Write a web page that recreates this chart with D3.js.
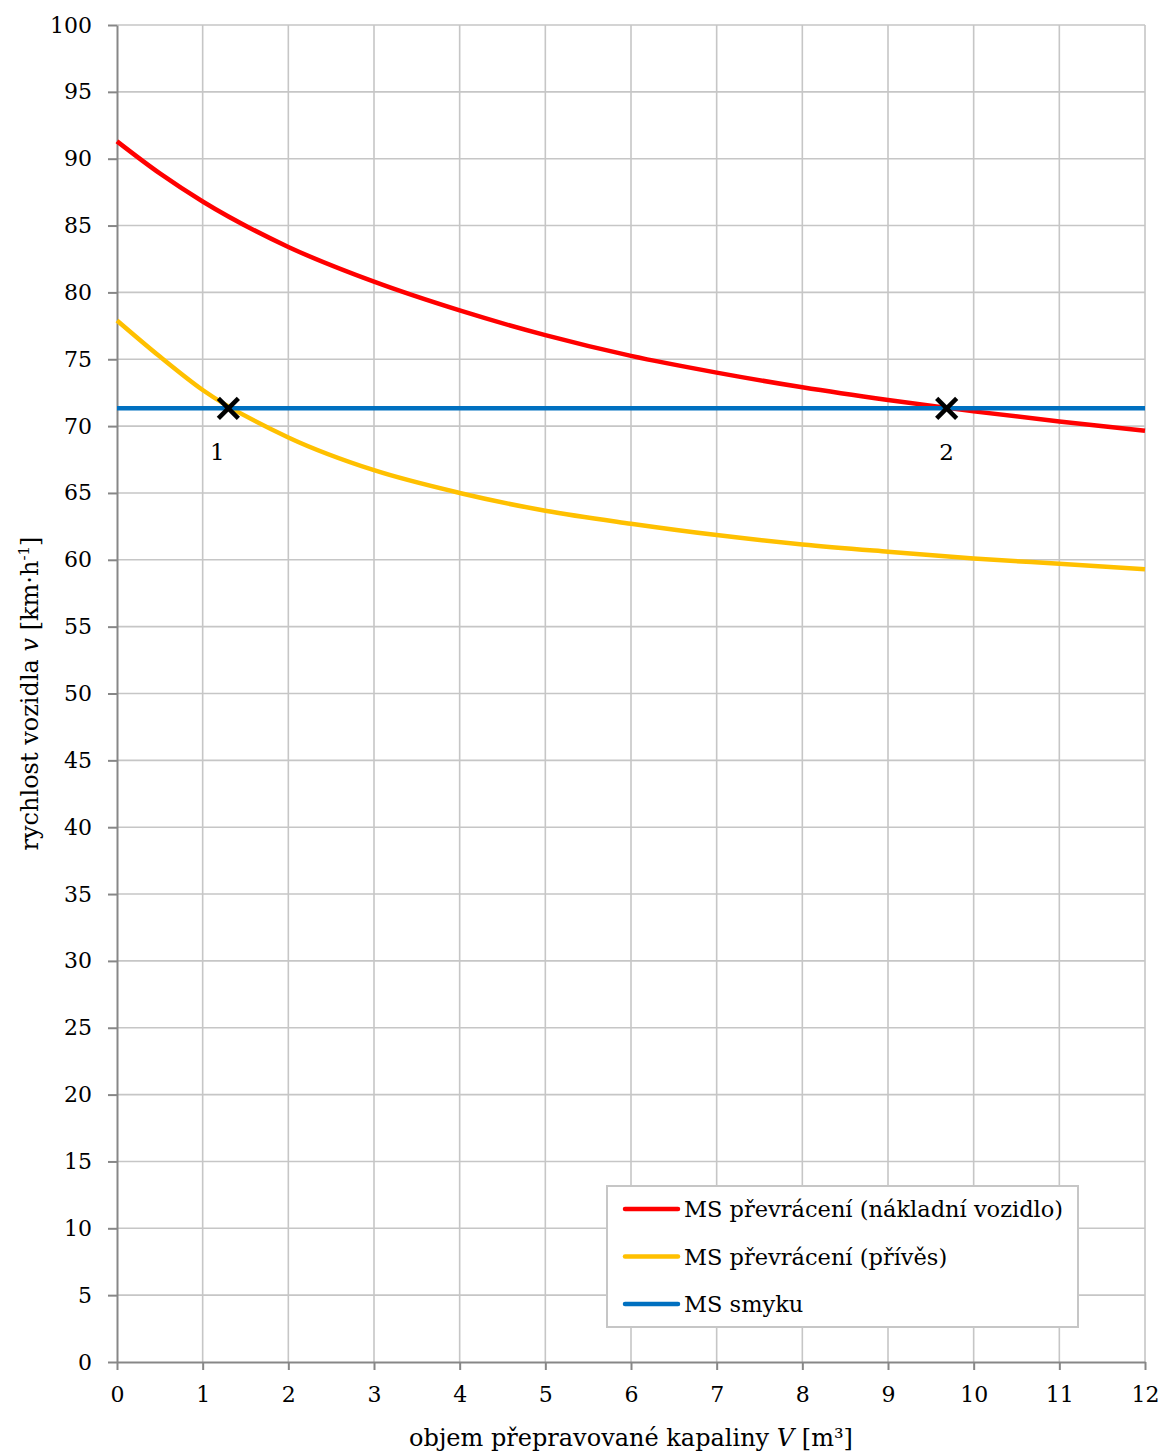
<!DOCTYPE html>
<html><head><meta charset="utf-8">
<script src="https://cdn.jsdelivr.net/npm/d3@7"></script>
<style>body{margin:0;background:#fff}</style>
</head><body><svg id="c" width="1163" height="1452"></svg>
<script>
// ---- data ----
const volumes = [0, 0.5, 1, 2, 3, 4, 5, 6, 7, 8, 9, 10, 11, 12];
const truckRollover = [91.3, 88.9, 86.8, 83.4, 80.8, 78.65, 76.8, 75.25, 74.0, 72.9, 71.95, 71.1, 70.35, 69.65];
const trailerRollover = [77.9, 75.2, 72.7, 69.15, 66.7, 65.0, 63.67, 62.7, 61.85, 61.15, 60.6, 60.1, 59.7, 59.3];
const skidVolumes = [0, 12];
const skidSpeed = [71.33, 71.33];
const seriesNames = ["MS převrácení (nákladní vozidlo)", "MS převrácení (přívěs)", "MS smyku"];
const seriesColors = ["#ff0000", "#ffc000", "#0070c0"];
const xTicks = d3.range(0, 13, 1);
const yTicks = d3.range(0, 101, 5);
const pointLabels = ["1", "2"];
const pointX = [1.3, 9.685];
const pointY = [71.33, 71.33];

// ---- layout ----
const FONT = "DejaVu Serif";
const L = 117, R = 1145, T = 25, B = 1362;
const svg = d3.select("#c");
const x = d3.scaleLinear().domain([0, 12]).range([L, R]);
const y = d3.scaleLinear().domain([0, 100]).range([B, T]);

// grid
const grid = svg.append("g");
grid.selectAll(".gx").data(xTicks.filter(d => d > 0)).join("line")
  .attr("x1", d => x(d)).attr("x2", d => x(d)).attr("y1", T).attr("y2", B)
  .attr("stroke", "#c6c6c6").attr("stroke-width", 1.6);
grid.selectAll(".gy").data(yTicks.filter(d => d > 0)).join("line")
  .attr("x1", L).attr("x2", R).attr("y1", d => y(d)).attr("y2", d => y(d))
  .attr("stroke", "#c6c6c6").attr("stroke-width", 1.6);

// axes
const yAxis = svg.append("g").attr("transform", `translate(${L},0)`)
  .call(d3.axisLeft(y).tickValues(yTicks).tickSize(9).tickPadding(16).tickSizeOuter(0));
const xAxis = svg.append("g").attr("transform", `translate(0,${B})`)
  .call(d3.axisBottom(x).tickValues(xTicks).tickSize(8).tickPadding(16).tickSizeOuter(0));
[xAxis, yAxis].forEach(a => {
  a.select(".domain").attr("stroke", "#878787").attr("stroke-width", 2);
  a.selectAll(".tick line").attr("stroke", "#878787").attr("stroke-width", 2);
  a.selectAll(".tick text").attr("font-family", FONT).attr("font-size", 22).attr("fill", "#000");
});

// lines
const line = d3.line().x(d => x(d[0])).y(d => y(d[1])).curve(d3.curveMonotoneX);
const seriesData = [
  d3.zip(volumes, truckRollover),
  d3.zip(volumes, trailerRollover),
  d3.zip(skidVolumes, skidSpeed)
];
const drawOrder = [1, 0, 2];
drawOrder.forEach(i => {
  svg.append("path").datum(seriesData[i]).attr("d", line)
    .attr("fill", "none").attr("stroke", seriesColors[i]).attr("stroke-width", 4.5);
});

// intersection markers
const labelDx = [-11, 0];
pointLabels.forEach((lab, i) => {
  const cx = x(pointX[i]), cy = y(pointY[i]), s = 10;
  const g = svg.append("g");
  g.append("line").attr("x1", cx - s).attr("y1", cy - s).attr("x2", cx + s).attr("y2", cy + s)
    .attr("stroke", "#000").attr("stroke-width", 4.5);
  g.append("line").attr("x1", cx - s).attr("y1", cy + s).attr("x2", cx + s).attr("y2", cy - s)
    .attr("stroke", "#000").attr("stroke-width", 4.5);
  svg.append("text").attr("x", cx + labelDx[i]).attr("y", cy + 52)
    .attr("text-anchor", "middle").attr("font-family", FONT).attr("font-size", 23).text(lab);
});

// axis titles
const xt = svg.append("text").attr("x", (L + R) / 2).attr("y", 1446)
  .attr("text-anchor", "middle").attr("font-family", FONT).attr("font-size", 24);
xt.append("tspan").text("objem přepravované kapaliny ");
xt.append("tspan").attr("font-style", "italic").text("V");
xt.append("tspan").text(" [m³]");

const yt = svg.append("text").attr("transform", `translate(38,${(T + B) / 2}) rotate(-90)`)
  .attr("text-anchor", "middle").attr("font-family", FONT).attr("font-size", 24);
yt.append("tspan").text("rychlost vozidla ");
yt.append("tspan").attr("font-style", "italic").text("v");
yt.append("tspan").text(" [km·h");
yt.append("tspan").attr("dy", -9).attr("font-size", 15).text("-1");
yt.append("tspan").attr("dy", 9).text("]");

// legend
const lg = svg.append("g");
lg.append("rect").attr("x", 607).attr("y", 1186).attr("width", 471).attr("height", 141)
  .attr("fill", "#fff").attr("stroke", "#c6c6c6").attr("stroke-width", 2);
seriesNames.forEach((name, i) => {
  const yy = 1209 + i * 47.5;
  lg.append("line").attr("x1", 625).attr("x2", 678).attr("y1", yy).attr("y2", yy)
    .attr("stroke", seriesColors[i]).attr("stroke-width", 4.5).attr("stroke-linecap", "round");
  lg.append("text").attr("x", 684).attr("y", yy).attr("dy", "0.36em")
    .attr("font-family", FONT).attr("font-size", 22.5).text(name);
});
</script></body></html>
